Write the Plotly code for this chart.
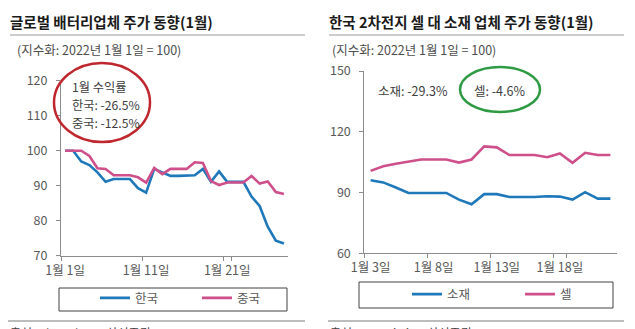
import plotly.graph_objects as go

W, H = 635, 329
def px(x):
    return x / W
def py(y):
    return 1 - y / H

FONT = "Noto Sans CJK KR"

# ---------------- data ----------------
left_days = [f"1월 {d}일" for d in range(1, 29)]
korea = [100, 100, 96.9, 95.9, 93.8, 91.1, 91.9, 91.9, 91.9, 89.3, 88.0, 94.8, 93.8, 92.8,
         92.8, 92.8, 93.0, 94.8, 91.1, 94.1, 91.1, 91.1, 91.1, 86.9, 84.2, 78.3, 74.3, 73.5]
china = [100, 100, 100, 98.5, 95.0, 94.8, 93.0, 93.0, 93.0, 92.4, 90.9, 95.1, 93.3, 94.8,
         94.8, 94.8, 96.7, 96.5, 91.3, 90.2, 90.9, 90.9, 90.9, 92.8, 90.6, 91.2, 88.2, 87.6]
left_ticks = ["1월 1일", "1월 11일", "1월 21일"]

right_days = [f"1월 {d}일" for d in range(3, 23)]
material = [96.1, 95.0, 92.5, 89.8, 89.8, 89.8, 89.8, 86.5, 84.2, 89.2, 89.2, 87.8, 87.8, 87.8,
            88.2, 88.0, 86.5, 90.2, 87.0, 87.0]
cell = [100.7, 103.0, 104.2, 105.1, 106.3, 106.3, 106.3, 104.8, 106.3, 112.8, 112.3, 108.5,
        108.5, 108.5, 107.4, 109.3, 104.7, 109.6, 108.5, 108.5]
right_ticks = ["1월 3일", "1월 8일", "1월 13일", "1월 18일"]

BLUE = "#1f78ba"
PINK = "#cf4f8b"
GRAY_TXT = "#595959"
AX = "#8c8c8c"

fig = go.Figure()
fig.add_trace(go.Scatter(x=left_days, y=korea, mode="lines", name="한국",
                         line=dict(color=BLUE, width=2.6), xaxis="x", yaxis="y", legend="legend"))
fig.add_trace(go.Scatter(x=left_days, y=china, mode="lines", name="중국",
                         line=dict(color=PINK, width=2.6), xaxis="x", yaxis="y", legend="legend"))
fig.add_trace(go.Scatter(x=right_days, y=material, mode="lines", name="소재",
                         line=dict(color=BLUE, width=2.6), xaxis="x2", yaxis="y2", legend="legend2"))
fig.add_trace(go.Scatter(x=right_days, y=cell, mode="lines", name="셀",
                         line=dict(color=PINK, width=2.6), xaxis="x2", yaxis="y2", legend="legend2"))

axis_common = dict(showline=True, linecolor=AX, linewidth=1, ticks="outside", ticklen=4,
                   tickcolor=AX, showgrid=False, zeroline=False, tickangle=0, automargin=False,
                   tickfont=dict(family=FONT, size=12.5, color=GRAY_TXT))

fig.update_layout(
    width=W, height=H, margin=dict(l=0, r=0, t=0, b=0, autoexpand=False),
    paper_bgcolor="white", plot_bgcolor="white",
    font=dict(family=FONT),
    xaxis=dict(domain=[px(61), px(288)], anchor="y", type="category",
               categoryorder="array", categoryarray=left_days,
               range=[-0.5, len(left_days) - 0.5], tickson="boundaries",
               tickvals=left_ticks, ticklabelstandoff=3, **axis_common),
    yaxis=dict(domain=[py(255.7), py(80.7)], anchor="x", range=[70, 120], dtick=10,
               ticklabelstandoff=6, **axis_common),
    xaxis2=dict(domain=[px(364.3), px(616.7)], anchor="y2", type="category",
                categoryorder="array", categoryarray=right_days,
                range=[-0.5, len(right_days) - 0.5], tickson="boundaries",
                tickvals=right_ticks, ticklabelstandoff=3, **axis_common),
    yaxis2=dict(domain=[py(253.3), py(71)], anchor="x2", range=[60, 150], dtick=30,
                ticklabelstandoff=6, **axis_common),
    legend=dict(orientation="h", x=px(95), y=py(298.3), xanchor="left", yanchor="middle",
                bgcolor="rgba(0,0,0,0)", borderwidth=0, entrywidthmode="pixels", entrywidth=57,
                font=dict(family=FONT, size=12.5, color=GRAY_TXT)),
    legend2=dict(orientation="h", x=px(407), y=py(294.5), xanchor="left", yanchor="middle",
                 bgcolor="rgba(0,0,0,0)", borderwidth=0, entrywidthmode="pixels", entrywidth=68,
                 font=dict(family=FONT, size=12.5, color=GRAY_TXT)),
    showlegend=True,
)

shapes = [
    # title rules
    dict(type="line", xref="paper", yref="paper", x0=px(10), x1=px(305), y0=py(35), y1=py(35),
         line=dict(color="#9a9a9a", width=1)),
    dict(type="line", xref="paper", yref="paper", x0=px(329), x1=px(624), y0=py(35), y1=py(35),
         line=dict(color="#9a9a9a", width=1)),
    # bottom rules
    dict(type="line", xref="paper", yref="paper", x0=px(8), x1=px(305), y0=py(321), y1=py(321),
         line=dict(color="#a6a6a6", width=1.5)),
    dict(type="line", xref="paper", yref="paper", x0=px(328), x1=px(624), y0=py(321), y1=py(321),
         line=dict(color="#a6a6a6", width=1.5)),
    # legend boxes
    dict(type="rect", xref="paper", yref="paper", x0=px(59), x1=px(287), y0=py(311), y1=py(288),
         line=dict(color="#404040", width=1)),
    dict(type="rect", xref="paper", yref="paper", x0=px(359), x1=px(613), y0=py(308), y1=py(282),
         line=dict(color="#404040", width=1)),
    # ellipses
    dict(type="circle", xref="paper", yref="paper", x0=px(54), x1=px(150), y0=py(142), y1=py(63),
         line=dict(color="#c0262d", width=2.5)),
    dict(type="circle", xref="paper", yref="paper", x0=px(460), x1=px(540), y0=py(112), y1=py(67),
         line=dict(color="#2e9a44", width=2.5)),
]
fig.update_layout(shapes=shapes)

def ann(text, x, y, size=12, color=GRAY_TXT, weight="normal", xanchor="left", yanchor="middle"):
    fig.add_annotation(text=text, xref="paper", yref="paper", x=px(x), y=py(y),
                       xanchor=xanchor, yanchor=yanchor, showarrow=False,
                       font=dict(family=FONT, size=size, color=color, weight=weight))

ann("글로벌 배터리업체 주가 동향(1월)", 8, 22, size=14.5, color="#1a1a1a", weight="bold")
ann("한국 2차전지 셀 대 소재 업체 주가 동향(1월)", 327, 22, size=14.5, color="#1a1a1a", weight="bold")
ann("(지수화: 2022년 1월 1일 = 100)", 15, 50, size=12.5, color="#4d4d4d")
ann("(지수화: 2022년 1월 1일 = 100)", 330, 50, size=12.5, color="#4d4d4d")

ann("1월 수익률", 70, 87, size=12.2, color="#404040")
ann("한국: -26.5%", 70, 105, size=12.2, color="#404040")
ann("중국: -12.5%", 70, 123, size=12.2, color="#404040")

ann("소재: -29.3%", 376, 90, size=12.5, color="#404040")
ann("셀: -4.6%", 472, 90, size=12.5, color="#404040")

ann("출처: Bloomberg, 삼성증권", 8, 322, size=12, color="#404040", yanchor="top")
ann("출처: Quantiwise, 삼성증권", 328, 322, size=12, color="#404040", yanchor="top")

fig.write_html("out.html")
